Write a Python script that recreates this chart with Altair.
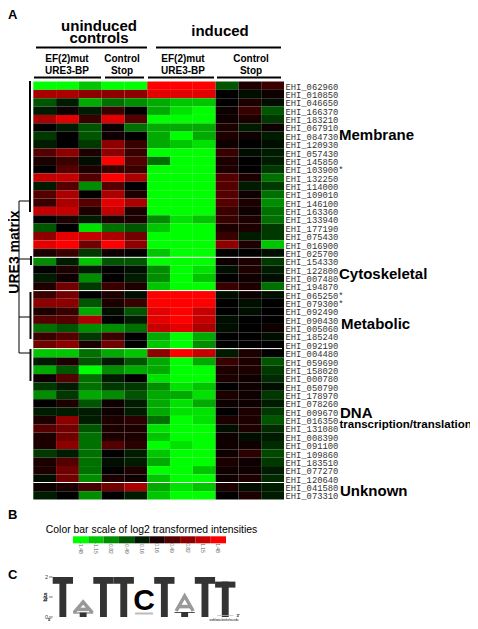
import altair as alt
import pandas as pd

genes = ["062960","010850","046650","166370","183210","067910","084730","120930","057430","145850",
         "103900","132250","114000","109010","146100","163360","133940","177190","075430","016900",
         "025700","154330","122800","007480","194870","065250","079300","092490","090430","005060",
         "185240","092190","004480","059690","158020","000780","050790","178970","078260","009670",
         "016350","131080","008390","091100","109860","183510","077270","120640","041580","073310"]
starred = ["103900","065250","079300"]

# expression values, -9 = full green, +9 = full red
uninduced = [
 [-9,-9,-7,-9,-9],[6,6,5,5,5],[-3,-1,-6,-4,-5],[-1,.5,-1,2,0],[6,8,2,8,3],[0,-1,-3,.5,-4],[-2,0,-3,.5,0],
 [-1,0,-2,5,2],[3,5,1,5,2],[1,2,-.5,9,3],[0,3,1,2,2],[7,7,3,9,6],[-1,3,-5,3,0],[3,6,0,6,1],[2,6,3,8,6],
 [7,7,1,7,1],[0,1,-1,1,1],[-3,0,-8,-4,-3],[5,8,7,6,4],[8,9,4,9,5],[1,2,-2,.5,0],[-5,-1,-7,-3,-3],
 [0,1,-1,0,-.5],[-1,.5,-5,0,-1],[1,4,-2,2,1],[2,4,0,1,-.5],[5,5,-3,1,2],[1,2,-6,-.5,-3],[3,3,6,0,-1],
 [-4,-3,-5,-5,-4],[2,3,-2,2,0],[4,5,1,4,0],[-7,-7,-4,-6,-7],[-1,1,-3,-1,-3],[-6,-3,-9,-5,-6],[.5,3,-4,-1,0],
 [-2,-1,-4,-2,-2],[-5,-2,-6,-5,-3],[0,1,-3,.5,-1],[-1,-1,-1,.5,-1],[1,5,-1,1,1.5],[3,4,-3,1,1],[1,4,-4,1,1],
 [1,5,-4,3,1.5],[-2,-1,-4,0,-1],[1,3,-4,-.5,-1],[1,4,-4,0,1],[-.5,4,-5,1,.5],[.5,1,2.5,4,6],[-1,0,-5,0,-1]]
induced_mut = [
 [9,9,9],[8,8,8],[-6,-7,-7],[-6,-8,-9],[-9,-9,-9],[-6,-6,-6],[-6,-9,-6],[-6,-7,-8],[-9,-9,-9],[-4,-9,-9],
 [-9,-9,-9],[-9,-9,-9],[-9,-9,-9],[-9,-9,-9],[-9,-9,-9],[-9,-9,-9],[-5,-8,-7],[-7,-9,-9],[-9,-9,-9],[-9,-9,-9],
 [-7,-9,-9],[-9,-9,-9],[-5,-9,-8],[-5,-9,-7],[-7,-9,-9],[9,9,9],[9,9,9],[8,9,7],[8,9,7],[7,8,6],
 [-6,-9,-6],[-7,-9,-5],[5,9,7],[-6,-9,-6],[-6,-9,-9],[-8,-9,-9],[-5,-8,-7],[-6,-6,-8],[-6,-8,-6],[-6,-8,-8],
 [-4,-9,-8],[-8,-9,-9],[-7,-9,-9],[-9,-8,-9],[-7,-9,-9],[-6,-9,-9],[-9,-9,-7],[-7,-9,-9],[-6,-8,-7],[-7,-9,-9]]
induced_stop = [
 [-3,1,2],[0,-.5,.5],[0,1,-.5],[.5,2,-3],[.5,1,-2],[1,-1,.5],[1,.5,-1],[.5,0,-.5],[2,-.5,-1],[1,0,-1],
 [1,0,-2],[3,1,-4],[3,-1,-2],[3,.5,-4],[3,1,-5],[2,.5,-4],[2,1,-4],[1,1,-2],[2,-1,-2],[5,1,-7],
 [0,0,-.5],[.5,1,-2],[-.5,1,-1],[0,.5,-.5],[2,1,-4],[-.5,.5,-.5],[0,-.5,0],[0,-.5,0],[-.5,0,0],[-.5,0,.5],
 [0,0,-.5],[0,0,0],[-1,1,0],[2,1,-3],[1,1,-2],[1,.5,-1.5],[0,.5,-.5],[1,.5,-2],[.5,.5,-1],[0,1,-2],
 [1,1,-3],[-.5,1,-1.5],[.5,-.5,-1],[.5,.5,-1.5],[.5,1.5,-2.5],[1,.5,-2],[.5,.5,-1],[.5,1,-1.5],[1,-.5,-1],[0,1,-1]]

scale_labels = ["-1.48","-1.15","-0.82","-0.49","-0.16","0.16","0.49","0.82","1.15","1.48"]
scale_values = [-1.48,-1.15,-0.82,-0.49,-0.16,0.16,0.49,0.82,1.15,1.48]

logo_positions = [1,2,3,4,5,6,7,8,9]
logo_t_bits = [2.0,0.22,2.0,2.0,0,2.0,0.25,2.0,1.77]
logo_ticks = [0,1,2]

GREEN, RED = "#00ff00", "#ff0000"
def px(v): return v - 8

rows = []
for g, a, b, c in zip(genes, uninduced, induced_mut, induced_stop):
    for j, v in enumerate(list(a) + list(b) + list(c)):
        rows.append({"gene": g, "col": j, "value": v * 1.48 / 9})
heat_df = pd.DataFrame(rows)

color = alt.Color("value:Q", legend=None,
                  scale=alt.Scale(domain=[-1.48, 0, 1.48], range=[GREEN, "#000000", RED], interpolate="rgb"))

heat = alt.Chart(heat_df).mark_rect().encode(
    x=alt.X("col:O", axis=None, scale=alt.Scale(range=[px(33.3), px(284)], paddingInner=0, paddingOuter=0)),
    y=alt.Y("gene:N", axis=None, sort=genes, scale=alt.Scale(range=[px(81.5), px(499.5)], paddingInner=0, paddingOuter=0)),
    color=color)

gene_df = pd.DataFrame({"gene": genes, "label": ["EHI_" + g + ("*" if g in starred else "") for g in genes]})
gene_text = alt.Chart(gene_df).mark_text(align="left", baseline="middle", font="Liberation Mono",
                                         fontSize=8.8, dy=1, color="#333333").encode(
    x=alt.value(px(285.5)),
    y=alt.Y("gene:N", axis=None, sort=genes, scale=alt.Scale(range=[px(81.5), px(499.5)], paddingInner=0, paddingOuter=0)),
    text="label:N")

def lines(segs, width, col="#000000"):
    df = pd.DataFrame([{"x": px(a), "x2": px(b), "y": px(c), "y2": px(d)} for a, b, c, d in segs])
    return alt.Chart(df).mark_rule(color=col, strokeWidth=width).encode(
        x=alt.X("x:Q", scale=None, axis=None), x2="x2:Q",
        y=alt.Y("y:Q", scale=None, axis=None), y2="y2:Q")

thick = lines([(36,147,47.5,47.5),(156,281,47.5,47.5),(34,101,77.5,77.5),(105,144,77.5,77.5),
               (148,214,77.5,77.5),(217,281,77.5,77.5),
               (30,30,81,212),(31,31,256,265),(30.5,30.5,292,339),(30.5,30.5,349,381)], 2)
thin = lines([(19,19,201,353),(19,30,201,201),(19,31,259,259),(19,30,317,317),(19,30,353,353)], 1)
seps = lines([(33.3,284,257.3,257.3),(33.3,284,290.6,290.6),(33.3,282,348.6,348.6),(33.3,284,482.5,482.5)], 1, "#ffffff")

def label(t, x, y, size, bold=True, align="left", angle=0, color="#000000"):
    kw = dict(align=align, baseline="middle", font="Liberation Sans", fontSize=size,
              fontWeight="bold" if bold else "normal", color=color)
    if angle:
        kw["angle"] = angle
    return alt.Chart(pd.DataFrame({"t": [t]})).mark_text(**kw).encode(
        text="t:N", x=alt.value(px(x)), y=alt.value(px(y)))

texts = [
    label("A", 8, 15, 13), label("B", 8, 515, 13), label("C", 8, 575, 13),
    label("uninduced", 99, 26, 15, align="center"), label("controls", 99, 38, 15, align="center"),
    label("induced", 220, 31, 15, align="center"),
    label("EF(2)mut", 67, 59, 10, align="center"), label("URE3-BP", 67, 71, 10, align="center"),
    label("Control", 122, 59, 10, align="center"), label("Stop", 122, 71, 10, align="center"),
    label("EF(2)mut", 183, 59, 10, align="center"), label("URE3-BP", 183, 71, 10, align="center"),
    label("Control", 251, 59, 10, align="center"), label("Stop", 251, 71, 10, align="center"),
    label("URE3 matrix", 14.5, 252, 14, align="center", angle=270),
    label("Membrane", 339, 135, 15), label("Cytoskeletal", 339, 274, 15), label("Metabolic", 341, 324, 15),
    label("DNA", 340, 413, 15), label("transcription/translation", 339.5, 425, 11.5), label("Unknown", 340, 491, 15),
    label("Color bar scale of log2 transformed intensities", 151.5, 530, 10.4, bold=False, align="center"),
    label("5'", 49.5, 620, 4, align="center"), label("3'", 238, 616, 4, align="center"),
    label("weblogo.berkeley.edu", 224, 620, 3, bold=False, align="center"),
    label("bits", 45, 597, 5, align="center", angle=270),
]

# colour bar
bar_df = pd.DataFrame({"label": scale_labels, "value": scale_values})
bar_x = alt.X("label:N", axis=None, sort=scale_labels,
              scale=alt.Scale(range=[px(73), px(226)], paddingInner=0, paddingOuter=0))
bar = alt.Chart(bar_df).mark_rect().encode(
    x=bar_x, color=color, y=alt.value(px(536.3)), y2=alt.value(px(543.3)))
bar_text = alt.Chart(bar_df).mark_text(angle=90, baseline="middle", align="center", font="Liberation Sans",
                                       fontSize=5, color="#666666").encode(
    x=bar_x, y=alt.value(px(548)), text="label:N")

# sequence logo
logo_x = alt.Scale(domain=[0.5, 9.5], range=[px(52.7), px(235.4)])
logo_y = alt.Scale(domain=[0, 2], range=[px(617), px(577)])
DARK = "#333333"
tdf = pd.DataFrame({"p": logo_positions, "bits": logo_t_bits})
tdf = tdf[tdf.bits > 0].copy()
tdf["l"] = tdf.p - 0.5; tdf["r"] = tdf.p + 0.5
tdf["sl"] = tdf.p - 0.17; tdf["sr"] = tdf.p + 0.17
tdf["zero"] = 0.0
tdf["bar"] = tdf.bits * 0.83
t_stem = alt.Chart(tdf).mark_rect(color=DARK).encode(
    x=alt.X("sl:Q", scale=logo_x, axis=None), x2="sr:Q",
    y=alt.Y("zero:Q", scale=logo_y, axis=None), y2="bits:Q")
t_bar = alt.Chart(tdf).mark_rect(color=DARK).encode(
    x=alt.X("l:Q", scale=logo_x, axis=None), x2="r:Q",
    y=alt.Y("bar:Q", scale=logo_y, axis=None), y2="bits:Q")

a_df = pd.DataFrame([
    {"g": "p2", "o": 0, "x": 1.55, "y": 0.22}, {"g": "p2", "o": 1, "x": 2.0, "y": 0.75}, {"g": "p2", "o": 2, "x": 2.45, "y": 0.22},
    {"g": "c2", "o": 0, "x": 1.75, "y": 0.38}, {"g": "c2", "o": 1, "x": 2.25, "y": 0.38},
    {"g": "p7", "o": 0, "x": 6.58, "y": 0.3}, {"g": "p7", "o": 1, "x": 7.0, "y": 1.05}, {"g": "p7", "o": 2, "x": 7.42, "y": 0.3},
    {"g": "c7", "o": 0, "x": 6.72, "y": 0.52}, {"g": "c7", "o": 1, "x": 7.28, "y": 0.52},
])
a_lines = alt.Chart(a_df).mark_line(color="#999999", strokeWidth=3.5, strokeJoin="miter").encode(
    x=alt.X("x:Q", scale=logo_x, axis=None), y=alt.Y("y:Q", scale=logo_y, axis=None),
    detail="g:N", order="o:Q")
c_df = pd.DataFrame({"p": [5], "y": [0.8], "t": ["C"]})
c_text = alt.Chart(c_df).mark_text(font="Liberation Sans", fontWeight="bold", fontSize=30, baseline="middle",
                                   align="center", color="#000000").encode(
    x=alt.X("p:Q", scale=logo_x, axis=None), y=alt.Y("y:Q", scale=logo_y, axis=None), text="t:N")
squash_df = pd.DataFrame({"p": [5, 9], "l": [4.55, 8.6], "r": [5.45, 9.4], "y": [0.12, 0.06], "y2": [0.22, 0.1]})
squash = alt.Chart(squash_df).mark_rect(color="#bbbbbb", cornerRadius=2).encode(
    x=alt.X("l:Q", scale=logo_x, axis=None), x2="r:Q",
    y=alt.Y("y:Q", scale=logo_y, axis=None), y2="y2:Q")
tick_df = pd.DataFrame({"b": logo_ticks, "x": [0.32] * 3, "x2": [0.5] * 3, "lx": [0.2] * 3})
ticks = alt.Chart(tick_df).mark_rule(color="#333333", strokeWidth=0.7).encode(
    x=alt.X("x:Q", scale=logo_x, axis=None), x2="x2:Q", y=alt.Y("b:Q", scale=logo_y, axis=None))
tick_text = alt.Chart(tick_df).mark_text(font="Liberation Sans", fontSize=5.5, baseline="middle", color="#333333").encode(
    x=alt.X("lx:Q", scale=logo_x, axis=None), y=alt.Y("b:Q", scale=logo_y, axis=None), text="b:Q")

layers = [heat, seps, gene_text, thick, thin, bar, bar_text,
          t_stem, t_bar, a_lines, c_text, squash, ticks, tick_text] + texts

chart = alt.layer(*layers).resolve_scale(x="independent", y="independent", color="shared").properties(
    width=462, height=613, padding=0, background="#ffffff",
    autosize=alt.AutoSizeParams(type="none")
).configure_view(stroke=None)

chart.save("out.html", embed_options={"renderer": "svg", "actions": False})
